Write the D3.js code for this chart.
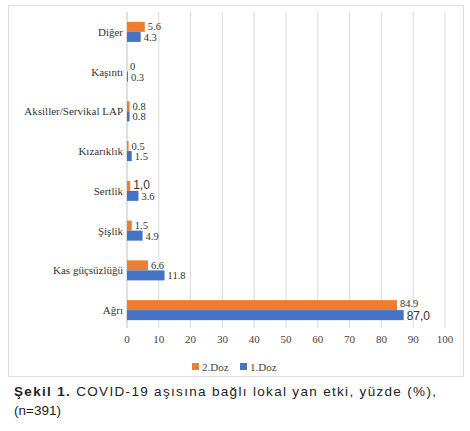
<!DOCTYPE html><html><head><meta charset="utf-8">
<script src="https://cdn.jsdelivr.net/npm/d3@7"></script>
<style>body{margin:0;background:#fff}</style></head><body>
<svg id="c" width="470" height="431"></svg>
<script>
const categories=["Diğer","Kaşıntı","Aksiller/Servikal LAP","Kızarıklık","Sertlik","Şişlik","Kas güçsüzlüğü","Ağrı"];
const dose2=[5.6,0,0.8,0.5,1.0,1.5,6.6,84.9];
const dose1=[4.3,0.3,0.8,1.5,3.6,4.9,11.8,87.0];
const labels2=["5.6","0","0.8","0.5","1,0","1.5","6.6","84.9"];
const labels1=["4.3","0.3","0.8","1.5","3.6","4.9","11.8","87,0"];
const ticks=[0,10,20,30,40,50,60,70,80,90,100];
const svg=d3.select("#c");
svg.append("rect").attr("x",8.5).attr("y",5.5).attr("width",455).attr("height",371).attr("fill","#fff").attr("stroke","#ddd");
const x=d3.scaleLinear().domain([0,100]).range([127,445]);
const y=d3.scaleBand().domain(categories).range([12,330]);
const serif="Liberation Serif, DejaVu Serif, serif";
const sansF="Liberation Sans, Arial, sans-serif";
svg.append("g").selectAll("line").data(ticks.slice(1)).join("line")
 .attr("x1",d=>x(d)).attr("x2",d=>x(d)).attr("y1",12).attr("y2",328).attr("stroke","#d9d9d9");
svg.append("line").attr("x1",x(0)).attr("x2",x(0)).attr("y1",12).attr("y2",328).attr("stroke","#bfbfbf");
svg.append("g").selectAll("text").data(ticks).join("text").attr("x",d=>x(d)).attr("y",343)
 .attr("text-anchor","middle").style("font-family",serif).attr("font-size",11).attr("fill","#444").text(d=>d);
const bh=10;
const isSans=l=>l.includes(",");
categories.forEach((c,i)=>{
 const cy=y(c)+y.bandwidth()/2;
 svg.append("rect").attr("x",x(0)).attr("y",cy-bh).attr("width",x(dose2[i])-x(0)).attr("height",bh).attr("fill","#ed7d31");
 svg.append("rect").attr("x",x(0)).attr("y",cy).attr("width",x(dose1[i])-x(0)).attr("height",bh).attr("fill","#4472c4");
 svg.append("text").attr("x",x(dose2[i])+3).attr("y",cy-(i===7?3:1.5)).style("font-family",isSans(labels2[i])?sansF:serif)
  .attr("font-size",isSans(labels2[i])?12:10.5).attr("fill","#333").text(labels2[i]);
 svg.append("text").attr("x",x(dose1[i])+3).attr("y",cy+(i===7?10:9)).style("font-family",isSans(labels1[i])?sansF:serif)
  .attr("font-size",isSans(labels1[i])?12:10.5).attr("fill","#333").text(labels1[i]);
 svg.append("text").attr("x",x(0)-4).attr("y",cy+4).attr("text-anchor","end").style("font-family",serif)
  .attr("font-size",11).attr("fill","#333").text(c);
});
const leg=[["2.Doz","#ed7d31",192],["1.Doz","#4472c4",240]];
leg.forEach(([t,col,lx])=>{
 svg.append("rect").attr("x",lx).attr("y",363).attr("width",7).attr("height",7).attr("fill",col);
 svg.append("text").attr("x",lx+10).attr("y",371).style("font-family",serif).attr("font-size",11).attr("fill","#444").text(t);
});
const cap=svg.append("text").attr("x",14).attr("y",396).style("font-family",sansF).attr("font-size",13.5).attr("fill","#222")
 .attr("textLength",422).attr("lengthAdjust","spacing");
cap.append("tspan").attr("font-weight","bold").text("Şekil 1.");
cap.append("tspan").text(" COVID-19 aşısına bağlı lokal yan etki, yüzde (%),");
svg.append("text").attr("x",14).attr("y",415).style("font-family",sansF).attr("font-size",13.5).attr("fill","#222").text("(n=391)");
</script></body></html>
